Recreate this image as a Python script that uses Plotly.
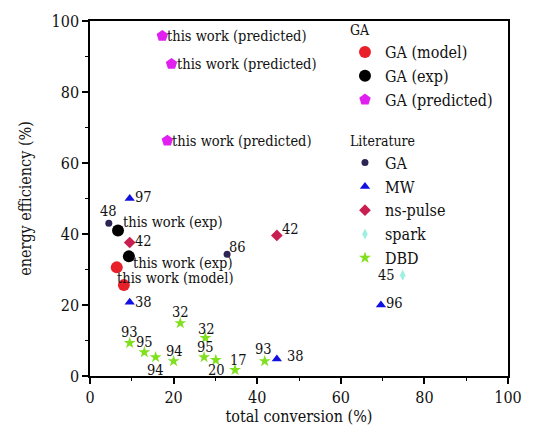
import plotly.graph_objects as go

# --- this work ---
model_x = [6.4, 8.1]
model_y = [30.6, 25.6]
exp_x = [6.7, 9.3]
exp_y = [41.0, 33.7]
pred_x = [17.3, 19.5, 18.5]
pred_y = [95.8, 87.9, 66.3]

# --- literature (label = reference number) ---
lga_x = [4.5, 32.8]
lga_y = [43.0, 34.3]
lga_lbl = ["48", "86"]

mw_x = [9.5, 9.5, 44.7, 69.6]
mw_y = [50.0, 20.8, 4.8, 20.0]
mw_lbl = ["97", "38", "38", "96"]

ns_x = [9.5, 44.7]
ns_y = [37.6, 39.6]
ns_lbl = ["42", "42"]

spark_x = [74.8]
spark_y = [28.4]
spark_lbl = ["45"]

dbd_x = [9.5, 13.0, 15.7, 20.0, 21.6, 27.6, 27.3, 30.1, 34.7, 41.8]
dbd_y = [9.3, 6.7, 5.3, 4.2, 14.9, 10.7, 5.3, 4.5, 1.7, 4.2]
dbd_lbl = ["93", "95", "94", "94", "32", "32", "95", "20", "17", "93"]

FONT = "DejaVu Serif Condensed, DejaVu Serif"

fig = go.Figure()

def add(name, group, x, y, symbol, color, size):
    fig.add_trace(go.Scatter(
        x=x, y=y, mode="markers", name=name,
        legendgroup=group, legendgrouptitle_text=group,
        marker=dict(symbol=symbol, color=color, size=size, line=dict(width=0)),
    ))

add("GA (model)", "GA", model_x, model_y, "circle", "#e8202a", 12)
add("GA (exp)", "GA", exp_x, exp_y, "circle", "#000000", 12)
add("GA (predicted)", "GA", pred_x, pred_y, "pentagon", "#e020f0", 12)
add("GA", "Literature", lga_x, lga_y, "circle", "#2e2454", 7)
add("MW", "Literature", mw_x, mw_y, "triangle-up", "#1010e0", 9)
add("ns-pulse", "Literature", ns_x, ns_y, "diamond", "#c81e50", 9)
add("spark", "Literature", spark_x, spark_y, "diamond-tall", "#9ef0e0", 8)
add("DBD", "Literature", dbd_x, dbd_y, "star", "#80e020", 9)

annotations = []

def label(x, y, text, xanchor, xshift, yshift, size=14.5):
    annotations.append(dict(
        x=x, y=y, xref="x", yref="y", text=text, showarrow=False,
        xanchor=xanchor, yanchor="middle", xshift=xshift, yshift=yshift,
        font=dict(family=FONT, size=size, color="#111111"),
    ))

# "this work" labels
for xi, yi in zip(pred_x, pred_y):
    label(xi, yi, "this work (predicted)", "left", 3, 0)
label(exp_x[0], exp_y[0], "this work (exp)", "left", 3, 8)
label(exp_x[1], exp_y[1], "this work (exp)", "left", 2, -7)
label(model_x[1], model_y[1], "this work (model)", "left", -9, 7)

# literature labels: (xanchor, xshift, yshift) per point
lga_pos = [("center", 0, 12), ("left", 0, 7)]
mw_pos = [("left", 3, 2), ("left", 3, 0), ("left", 8, 3), ("left", 3, 2)]
ns_pos = [("left", 3, 2), ("left", 3, 6)]
spark_pos = [("right", -6, 0)]
dbd_pos = [("center", 0, 11), ("center", 0, 10), ("center", 0, -13), ("center", 1, 10),
           ("center", 0, 11), ("center", 1, 9), ("center", 1, 10), ("center", 1, -10),
           ("center", 3, 10), ("center", -1, 12)]

for xs, ys, lbls, pos in [(lga_x, lga_y, lga_lbl, lga_pos), (mw_x, mw_y, mw_lbl, mw_pos),
                          (ns_x, ns_y, ns_lbl, ns_pos), (spark_x, spark_y, spark_lbl, spark_pos),
                          (dbd_x, dbd_y, dbd_lbl, dbd_pos)]:
    for xi, yi, t, (xa, dx, dy) in zip(xs, ys, lbls, pos):
        label(xi, yi, t, xa, dx, dy)

axis_common = dict(
    showline=True, linecolor="#000000", linewidth=1.5, mirror=True,
    ticks="outside", ticklen=6, tickwidth=1.5, tickcolor="#000000",
    minor=dict(dtick=10, ticks="outside", ticklen=3, tickcolor="#000000", tickwidth=1),
    showgrid=False, zeroline=False,
    tickfont=dict(family=FONT, size=16, color="#111111"),
)

fig.update_layout(
    width=534, height=438,
    margin=dict(l=90, r=23, t=20, b=62),
    plot_bgcolor="white", paper_bgcolor="white",
    font=dict(family=FONT, color="#111111"),
    xaxis=dict(range=[0, 100], dtick=20,
               title=dict(text="total conversion (%)", font=dict(family=FONT, size=16), standoff=4),
               **axis_common),
    yaxis=dict(range=[0, 100], dtick=20,
               title=dict(text="energy efficiency (%)", font=dict(family=FONT, size=16), standoff=16),
               **axis_common),
    legend=dict(
        x=0.61, y=1.02, xanchor="left", yanchor="top", maxheight=420,
        bgcolor="rgba(0,0,0,0)", borderwidth=0,
        traceorder="grouped", tracegroupgap=18,
        font=dict(family=FONT, size=16, color="#111111"),
        grouptitlefont=dict(family=FONT, size=14, color="#111111"),
        itemsizing="trace",
    ),
    annotations=annotations,
    showlegend=True,
)

fig.write_html("out.html")
